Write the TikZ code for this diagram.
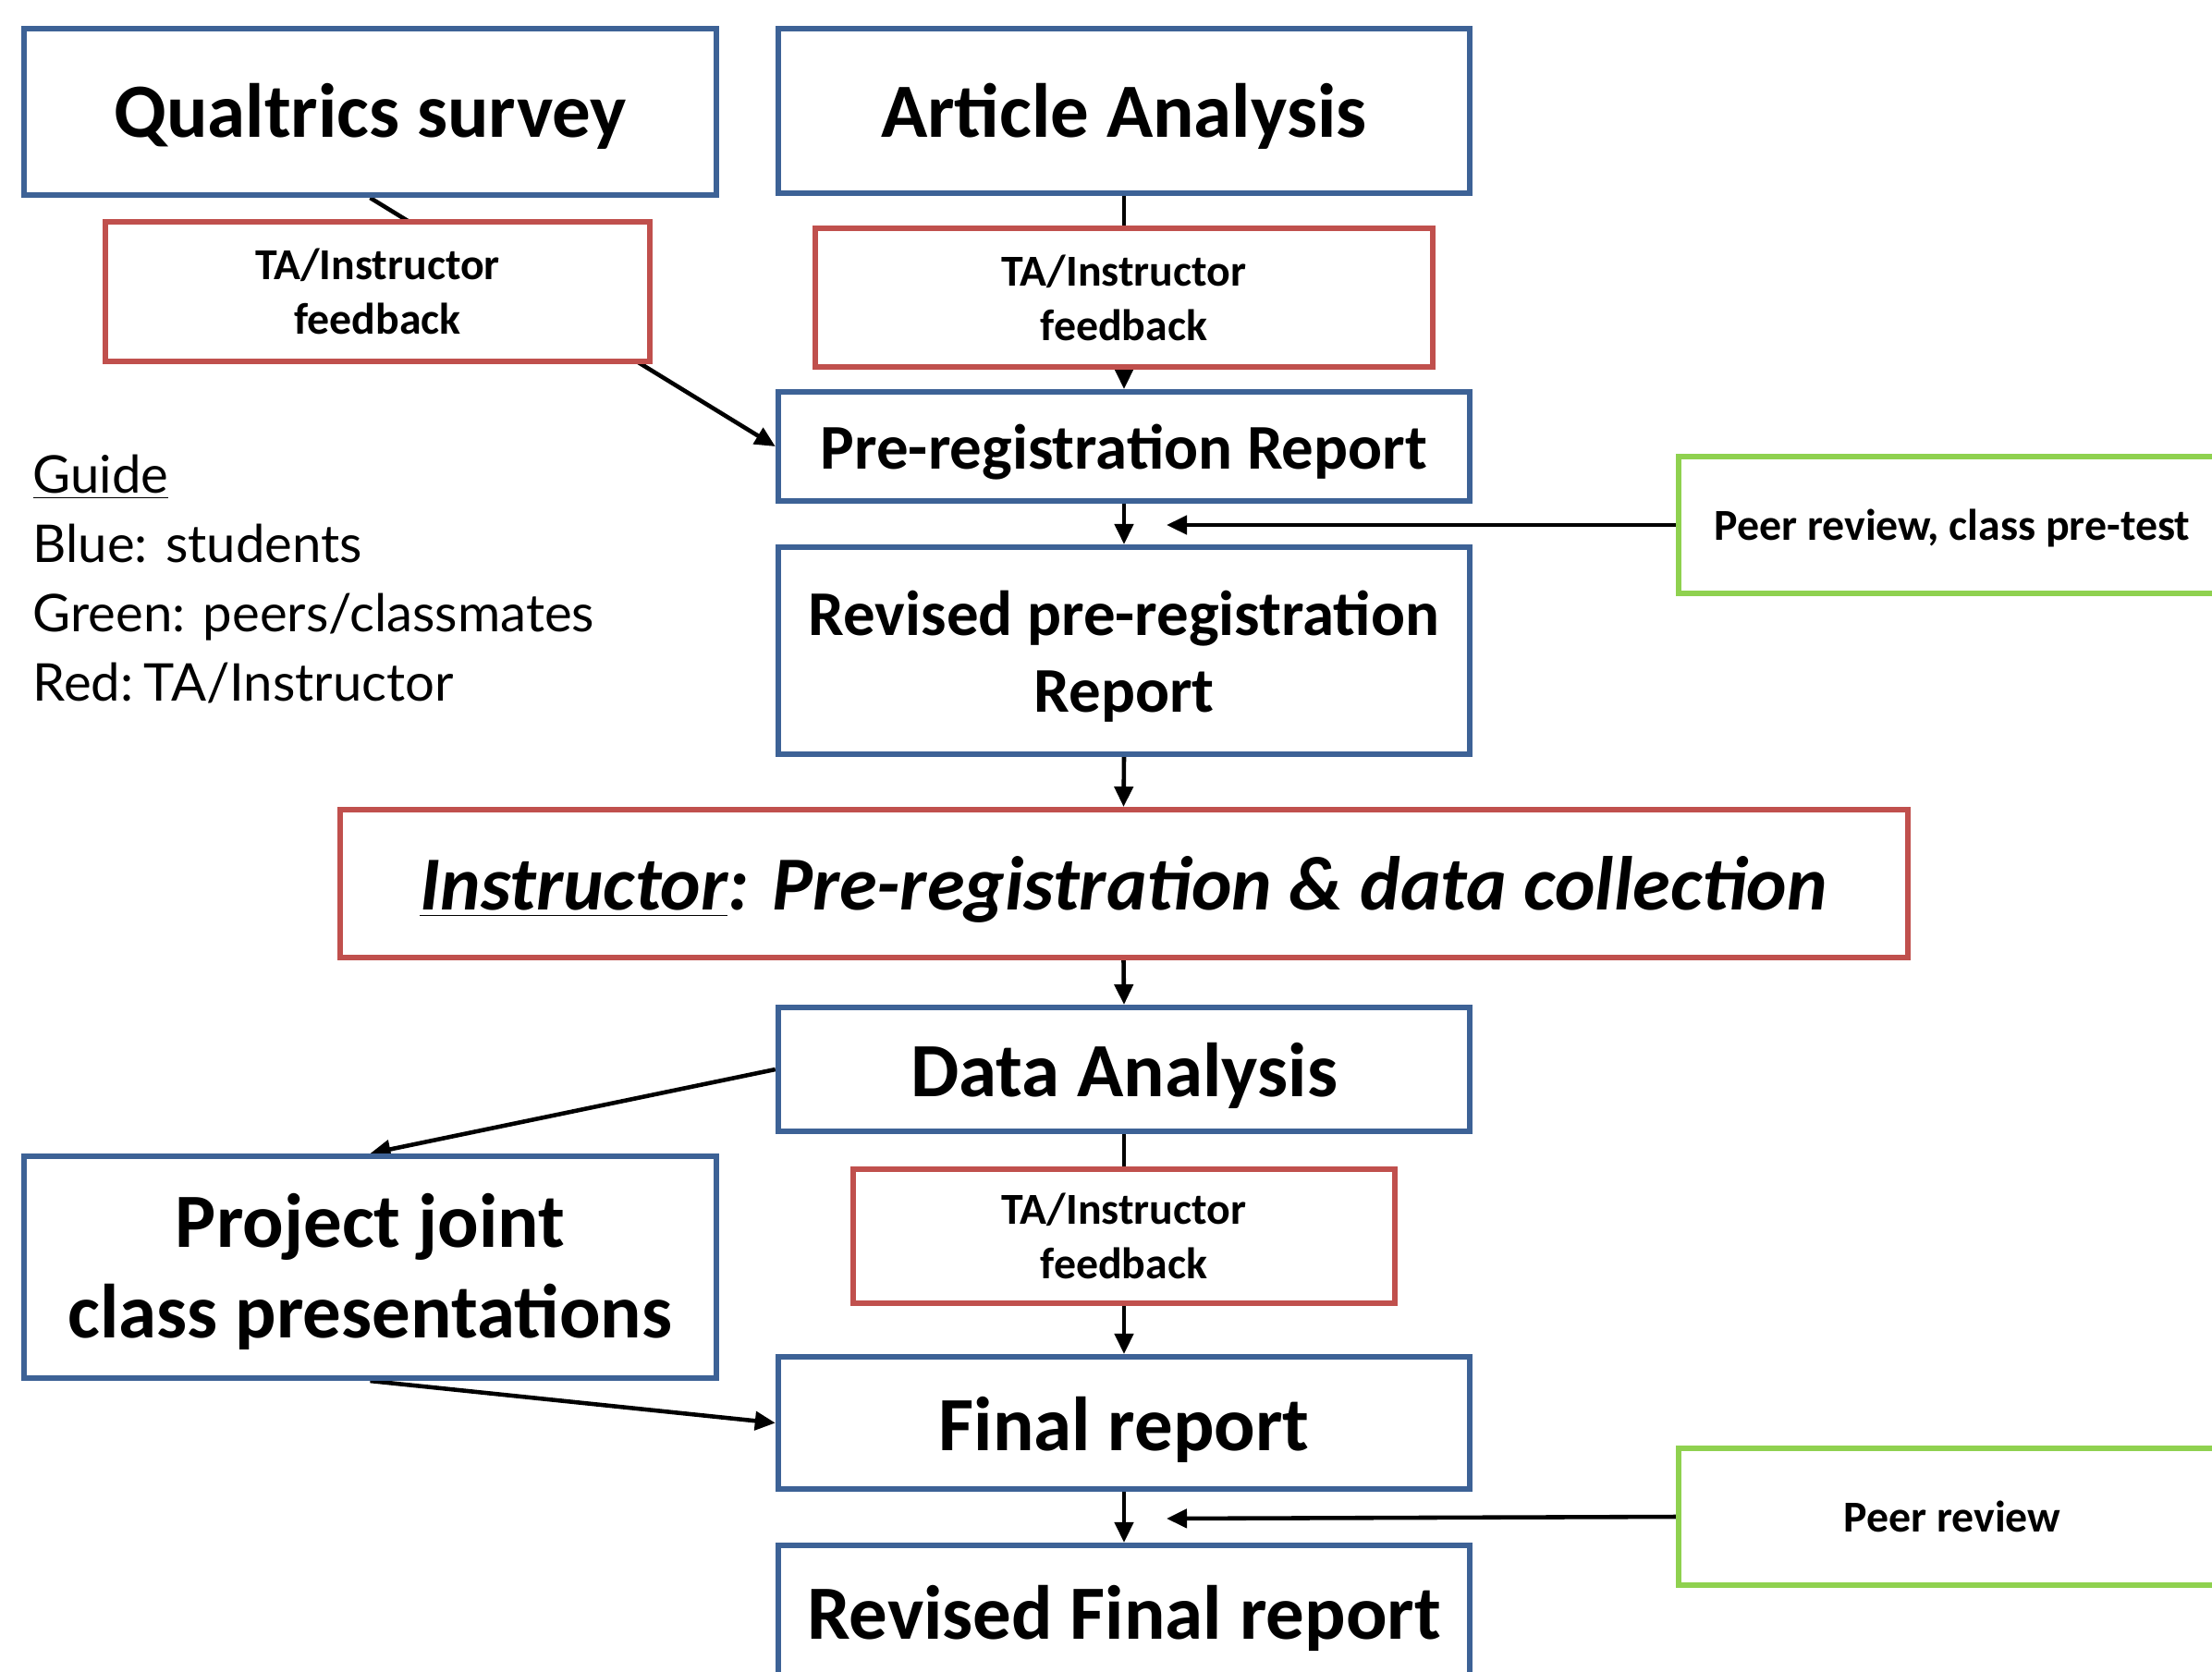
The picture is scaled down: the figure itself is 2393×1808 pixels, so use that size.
\documentclass[tikz,border=0pt]{standalone}
\usepackage{fontspec}
\setmainfont{Carlito}
\newfontfamily\guidefont{Lato}
\usetikzlibrary{arrows.meta,backgrounds}
\definecolor{bbl}{HTML}{3D6296}
\definecolor{brd}{HTML}{C0504D}
\definecolor{bgr}{HTML}{8FD14F}
\newcommand\dn[2][0.08cm]{\raisebox{-#1}[\height][\depth]{\begin{tabular}{@{}c@{}}#2\end{tabular}}}
\begin{document}
\begin{tikzpicture}[x=0.01cm,y=-0.01cm,
  box/.style={draw=#1, line width=1.7pt, fill=white, inner sep=0pt, align=center},
  tbig/.style={font=\fontsize{23.6}{28}\selectfont\bfseries},
  tmid/.style={font=\fontsize{19.6}{23.6}\selectfont\bfseries},
  tsmall/.style={font=\fontsize{13.6}{16.8}\selectfont\bfseries},
  tguide/.style={font=\fontsize{16}{21}\selectfont\guidefont, inner sep=0pt, anchor=base west},
  conn/.style={line width=1.3pt, -{Triangle[length=0.22cm,width=0.2cm]}},
]
\useasboundingbox (0,0) rectangle (2393,1808);
% blue (students)
\node[box=bbl, tbig, minimum width=7.49cm, minimum height=1.80cm] (qs) at (400.5,121) {\dn{Qualtrics survey}};
\node[box=bbl, tbig, minimum width=7.48cm, minimum height=1.78cm] (aa) at (1216,120) {\dn[0.09cm]{Article Analysis}};
\node[box=bbl, tmid, minimum width=7.48cm, minimum height=1.18cm] (pr) at (1216,483) {\dn{Pre-registration Report}};
\node[box=bbl, tmid, minimum width=7.48cm, minimum height=2.24cm] (rpr) at (1216,704) {\dn{Revised pre-registration\\Report}};
\node[box=bbl, tbig, minimum width=7.48cm, minimum height=1.34cm] (da) at (1216,1157) {\dn[0.1cm]{Data Analysis}};
\node[box=bbl, tbig, minimum width=7.49cm, minimum height=2.40cm] (pj) at (400.5,1371) {\dn{Project joint\\class presentations}};
\node[box=bbl, tbig, minimum width=7.48cm, minimum height=1.43cm] (fr) at (1216,1539.5) {\dn[0.1cm]{Final report}};
\node[box=bbl, tbig, minimum width=7.48cm, minimum height=1.46cm] (rfr) at (1216,1745) {\dn[0.09cm]{Revised Final report}};
% red (TA/Instructor)
\node[box=brd, tsmall, minimum width=5.89cm, minimum height=1.51cm] (fb1) at (408.5,315.5) {TA/Instructor\\feedback};
\node[box=brd, tsmall, minimum width=6.68cm, minimum height=1.50cm] (fb2) at (1216,322) {TA/Instructor\\feedback};
\node[box=brd, tsmall, minimum width=5.86cm, minimum height=1.45cm] (fb3) at (1216,1337.5) {TA/Instructor\\feedback};
\node[box=brd, minimum width=16.95cm, minimum height=1.60cm, font=\fontsize{23.5}{28}\selectfont\bfseries\itshape] (ins) at (1215.5,956) {\dn[0.09cm]{\underline{Instructor}: Pre-registration \& data collection}};
% green (peers)
\node[box=bgr, tsmall, minimum width=5.92cm, minimum height=1.48cm] (g1) at (2112,568) {\dn[0.045cm]{Peer review, class pre-test}};
\node[box=bgr, tsmall, minimum width=5.92cm, minimum height=1.48cm] (g2) at (2112,1641) {Peer review};
\coordinate (g1end) at (1262,568);
\coordinate (g2end) at (1262,1643);
% guide
\node[tguide] (gd0) at (35,533) {\underline{Guide}};
\node[tguide] (gd1) at (35,608) {Blue: students};
\node[tguide] (gd2) at (35,683) {Green: peers/classmates};
\node[tguide] (gd3) at (35,758) {Red:\kern0.2em TA/Instructor};
% connectors
\begin{scope}[on background layer]
\draw[conn] (qs.south) -- (pr.west);
\draw[conn] (aa.south) -- (pr.north);
\draw[conn] (pr.south) -- (rpr.north);
\draw[conn] (rpr.south) -- (ins.north);
\draw[conn] (ins.south) -- (da.north);
\draw[conn] (da.south) -- (fr.north);
\draw[conn] (fr.south) -- (rfr.north);
\draw[conn] (da.west) -- (pj.north);
\draw[conn] (pj.south) -- (fr.west);
\draw[conn] (g1.west) -- (g1end);
\draw[conn] (g2.west) -- (g2end);
\end{scope}
\end{tikzpicture}
\end{document}
